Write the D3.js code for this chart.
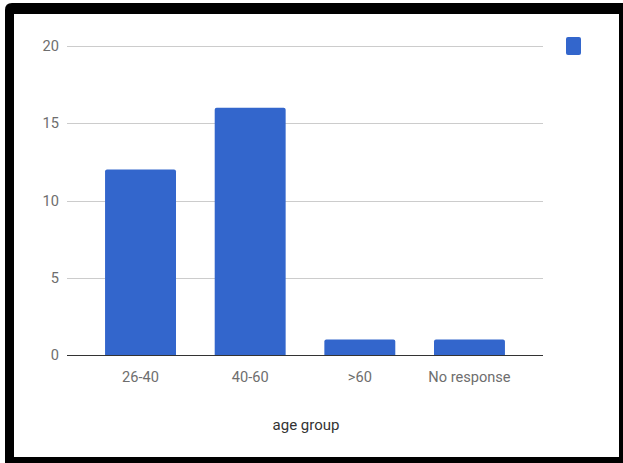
<!DOCTYPE html>
<html>
<head>
<meta charset="utf-8">
<script src="https://cdn.jsdelivr.net/npm/d3@7"></script>
<style>
  html, body { margin: 0; padding: 0; background: #fff; }
  svg { display: block; font-family: Roboto, Arial, sans-serif; }
</style>
</head>
<body>
<svg id="chart" width="623" height="463"></svg>
<script>
// Respondents by age group
const categories = ["26-40", "40-60", ">60", "No response"];
const counts = [12, 16, 1, 1];
const yTicks = [0, 5, 10, 15, 20];
const xTitle = "age group";

const svg = d3.select("#chart");
const W = 623, H = 463;

// frame
svg.append("rect").attr("x", 0).attr("y", 0).attr("width", W).attr("height", H).attr("fill", "#fff");
svg.append("path")
  .attr("d", "M5,463 L5,10 Q5,3 12,3 L623,3 L623,463 Z")
  .attr("fill", "#000");
svg.append("rect").attr("x", 14).attr("y", 14).attr("width", 605).attr("height", 443).attr("fill", "#fff");

const plotLeft = 67, plotRight = 543;
const y = d3.scaleLinear().domain([0, 20]).range([355, 46]);
const x = d3.scaleBand().domain(categories).range([85.7, 524.3]).paddingInner(0.353).paddingOuter(0.1765);

// gridlines
svg.append("g").selectAll("line").data(yTicks.filter(d => d !== 0)).join("line")
  .attr("x1", plotLeft).attr("x2", plotRight)
  .attr("y1", d => Math.round(y(d)) + 0.5).attr("y2", d => Math.round(y(d)) + 0.5)
  .attr("stroke", "#cccccc").attr("stroke-width", 1);

// y tick labels
svg.append("g").selectAll("text").data(yTicks).join("text")
  .attr("x", 59).attr("y", d => y(d))
  .attr("dy", "0.35em")
  .attr("text-anchor", "end")
  .attr("font-size", 14.6).attr("fill", "#6e6e6e")
  .text(d => d);

// bars with slightly rounded tops
const r = 2;
svg.append("g").selectAll("path").data(categories).join("path")
  .attr("fill", "#3366cc")
  .attr("d", (c, i) => {
    const x0 = x(c), x1 = x(c) + x.bandwidth();
    const y0 = y(0), y1 = y(counts[i]);
    return `M${x0},${y0} L${x0},${y1 + r} Q${x0},${y1} ${x0 + r},${y1} L${x1 - r},${y1} Q${x1},${y1} ${x1},${y1 + r} L${x1},${y0} Z`;
  });

// baseline
svg.append("line")
  .attr("x1", plotLeft).attr("x2", plotRight)
  .attr("y1", Math.round(y(0)) + 0.5).attr("y2", Math.round(y(0)) + 0.5)
  .attr("stroke", "#333").attr("stroke-width", 1);

// x tick labels
svg.append("g").selectAll("text").data(categories).join("text")
  .attr("x", c => x(c) + x.bandwidth() / 2).attr("y", 377)
  .attr("dy", "0.35em")
  .attr("text-anchor", "middle")
  .attr("font-size", 14.6).attr("fill", "#6e6e6e")
  .text(c => c);

// axis title
svg.append("text")
  .attr("x", 306).attr("y", 425)
  .attr("dy", "0.35em")
  .attr("text-anchor", "middle")
  .attr("font-size", 15).attr("fill", "#333")
  .text(xTitle);

// legend swatch (series has no name)
svg.append("rect")
  .attr("x", 566).attr("y", 37).attr("width", 15).attr("height", 18)
  .attr("rx", 2).attr("fill", "#3366cc");
</script>
</body>
</html>
